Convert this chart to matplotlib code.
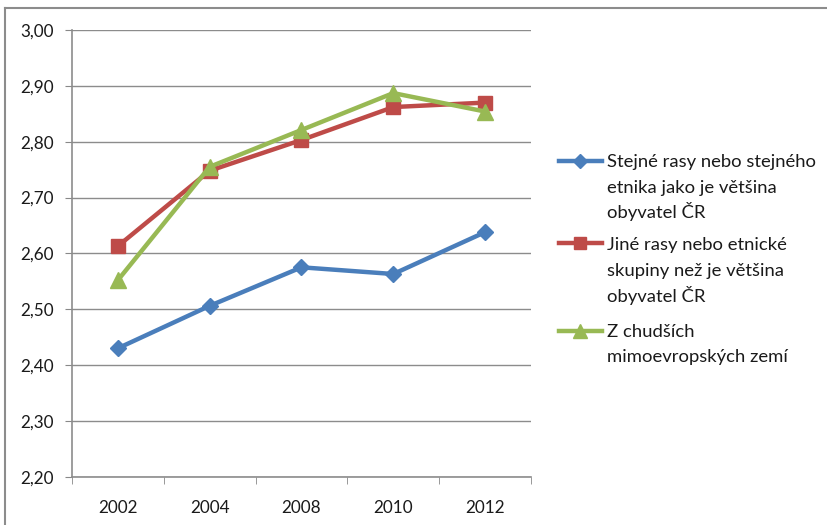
import matplotlib
matplotlib.use("Agg")
import matplotlib.pyplot as plt
from matplotlib.lines import Line2D
from matplotlib.ticker import FixedLocator, NullFormatter

plt.rcParams['font.family'] = ['Lato', 'DejaVu Sans']

years = ["2002", "2004", "2008", "2010", "2012"]
same_race = [2.43, 2.506, 2.575, 2.563, 2.638]
other_race = [2.613, 2.748, 2.803, 2.862, 2.870]
poorer_countries = [2.552, 2.755, 2.821, 2.887, 2.854]
series_labels = [
    ["Stejné rasy nebo stejného", "etnika jako je většina", "obyvatel ČR"],
    ["Jiné rasy nebo etnické", "skupiny než je většina", "obyvatel ČR"],
    ["Z chudších", "mimoevropských zemí"],
]
y_ticks = [2.20, 2.30, 2.40, 2.50, 2.60, 2.70, 2.80, 2.90, 3.00]

W, H = 828, 525
FS = 12.3
LFS = 13.3
fig = plt.figure(figsize=(W / 100, H / 100), dpi=100)
ax = fig.add_axes([72 / W, 1 - 476.7 / H, (531 - 72) / W, (476.7 - 30) / H])

x = list(range(len(years)))
colors = ["#4a7ebb", "#be4b48", "#98b954"]
markers = ["D", "s", "^"]
msizes = [8, 10, 11]
data = [same_race, other_race, poorer_countries]
for vals, c, m, ms in zip(data, colors, markers, msizes):
    ax.plot(x, vals, color=c, lw=3.2, marker=m, markersize=ms, zorder=3,
            solid_capstyle='round')

ax.set_xlim(-0.5, len(years) - 0.5)
ax.set_ylim(2.20, 3.00)
ax.set_yticks(y_ticks)
ax.set_yticklabels([f"{v:.2f}".replace(".", ",") for v in y_ticks], fontsize=FS,
                   color="#1a1a1a")
ax.set_xticks(x)
ax.set_xticklabels(years, fontsize=FS, color="#1a1a1a")
ax.tick_params(axis='x', which='major', length=0, pad=17)
ax.xaxis.set_minor_locator(FixedLocator([i - 0.5 for i in range(len(years) + 1)]))
ax.xaxis.set_minor_formatter(NullFormatter())
ax.tick_params(axis='x', which='minor', length=5, color="#888888", direction='out')
ax.tick_params(axis='y', length=5, color="#888888", direction='out', pad=8)
ax.grid(axis='y', color="#8c8c8c", lw=1)
ax.set_axisbelow(True)
for s in ['top', 'right']:
    ax.spines[s].set_visible(False)
for s in ['left', 'bottom']:
    ax.spines[s].set_color("#8c8c8c")
    ax.spines[s].set_linewidth(1.2)

# legend drawn manually
handle_ys = [161, 243, 331]
baselines = [[167, 193, 218], [250, 276, 302], [337, 362]]
for lines, c, m, ms, yy, bls in zip(series_labels, colors, markers, msizes,
                                    handle_ys, baselines):
    yf = 1 - yy / H
    fig.add_artist(Line2D([559 / W, 602 / W], [yf, yf], color=c, lw=3.2,
                          transform=fig.transFigure))
    fig.add_artist(Line2D([580.5 / W], [yf], color=c, marker=m, markersize=ms * 0.9,
                          transform=fig.transFigure))
    for txt, bl in zip(lines, bls):
        fig.text(607 / W, 1 - bl / H, txt, fontsize=LFS, va='baseline', ha='left',
                 color="#1a1a1a")

# outer chart border (cropped)
fig.add_artist(Line2D([5 / W, 1], [1 - 8 / H, 1 - 8 / H], color="#8c8c8c", lw=1.5,
                      transform=fig.transFigure))
fig.add_artist(Line2D([5 / W, 5 / W], [0, 1 - 8 / H], color="#8c8c8c", lw=1.5,
                      transform=fig.transFigure))

fig.savefig("out.png", dpi=100)
